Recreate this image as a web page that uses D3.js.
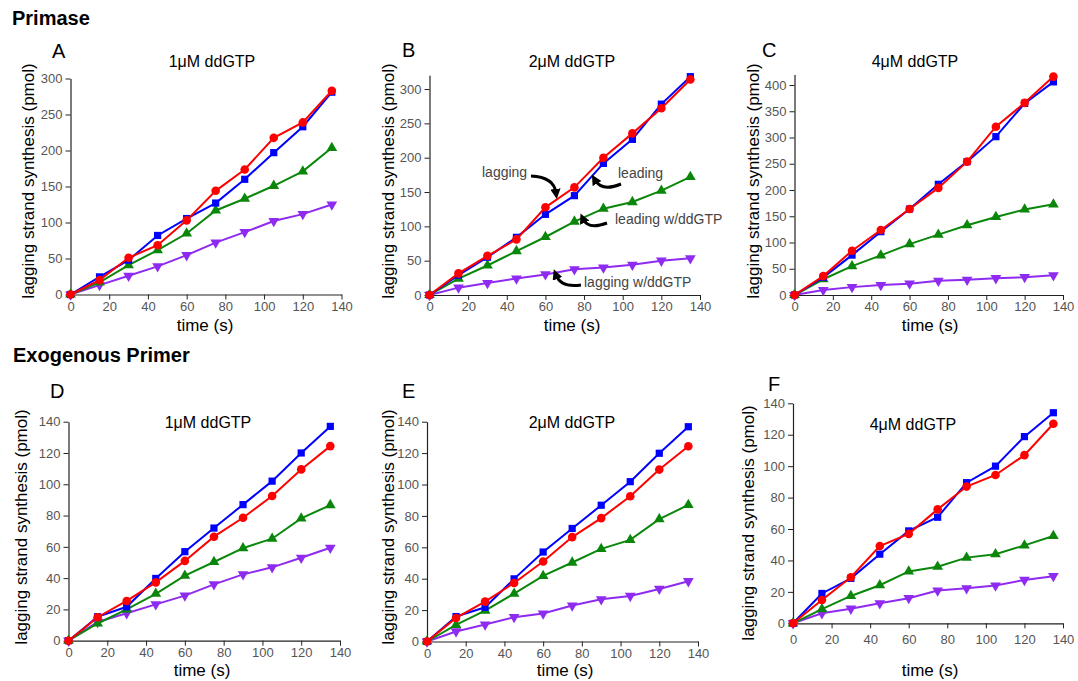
<!DOCTYPE html>
<html><head><meta charset="utf-8">
<script src="https://cdn.jsdelivr.net/npm/d3@7"></script>
<style>body{margin:0;background:#fff;} text{font-family:"Liberation Sans",Arial,sans-serif;}</style>
</head><body><svg id="c" width="1078" height="681"></svg>
<script>
// ---------- data ----------
const time = [0,15,30,45,60,75,90,105,120,135];
const xTicks = [0,20,40,60,80,100,120,140];
const seriesNames = ["lagging w/ddGTP","leading w/ddGTP","leading","lagging"];
const seriesColors = ["#8f2bf0","#0a870a","#0000ff","#ff0000"];
const seriesSymbols = ["triDown","triUp","square","circle"];

const A_leading   = [0,24.5,47.7,82,105.5,127,160,197,233,281];
const A_lagging   = [0,20,51,68.5,103,144,173.6,217.6,239,283];
const A_leadingDd = [0,16.7,40.7,61.6,84.7,116.7,133,151,171,203.7];
const A_laggingDd = [0,13,26,39,54.6,72,86.6,102,111.6,125];

const B_leading   = [0,29,55,84,117.5,144.7,191.7,226.7,278,318];
const B_lagging   = [0,31.5,57,81,127.7,156.8,200,235.4,272,314];
const B_leadingDd = [0,23.8,43,64,84.5,107,125.7,135.4,152,172];
const B_laggingDd = [0,10.7,17.5,24,30,37.4,40,44,50,53.4];

const C_leading   = [0,33.7,76,120.6,163.8,210.8,254,301.6,365,406];
const C_lagging   = [0,36,84.4,123.8,163.8,204,254,320.6,366,416];
const C_leadingDd = [0,30,55,75.5,97,115,133,148.6,163,172.7];
const C_laggingDd = [0,9.5,15,19,21.6,27,29,32,34,37.5];

const D_leading   = [0,15.3,21.7,39.8,56.9,72,87,102,120,137];
const D_lagging   = [0,15,25.4,37.3,51,66.5,78.6,92.5,109.5,124.4];
const D_leadingDd = [0,11,20,30,41.6,50.3,59.2,65.2,78.2,86.7];
const D_laggingDd = [0,12,17.5,23.2,28.8,36,42.4,46.9,53,59.4];

const E_leading   = [0,15.9,21.8,39.9,57,72,86.8,101.8,119.9,136.8];
const E_lagging   = [0,15,25.4,37.3,51,66.5,78.6,92.5,109.5,124.4];
const E_leadingDd = [0,10.6,19.7,30.5,41.8,50.3,59,64.7,77.9,87];
const E_laggingDd = [0,6.4,10.8,15.5,17.8,22.9,26.9,29,33.5,38.4];

const F_leading   = [0,19,28.6,44,58.8,67.5,89.5,100,118.8,134];
const F_lagging   = [0,14.8,29.3,49.2,56.9,72.5,87,94.4,107,127];
const F_leadingDd = [0,9,17.4,24.2,33,36,41.8,44,49.6,55.6];
const F_laggingDd = [0,6.4,9.3,12.7,16,20.8,22.3,24,27.6,30];

const yTicksTopA = [0,50,100,150,200,250,300];
const yTicksTopC = [0,50,100,150,200,250,300,350,400];
const yTicksBottom = [0,20,40,60,80,100,120,140];

const panelLetters = ["A","B","C","D","E","F"];
const panelTitles = ["1\u03BCM ddGTP","2\u03BCM ddGTP","4\u03BCM ddGTP","1\u03BCM ddGTP","2\u03BCM ddGTP","4\u03BCM ddGTP"];
const sectionTitles = ["Primase","Exogenous Primer"];
const xLabel = "time (s)";
const yLabel = "lagging strand synthesis (pmol)";

// ---------- layout (pixels) ----------
const panels = [
  {x0:70.5, x1:341.5, y0:294.5, yTop:78.5, yMax:300, ticks:yTicksTopA, data:[A_laggingDd,A_leadingDd,A_leading,A_lagging],
   letter:[52,58], title:[212,67], ylab:[28.5,181], xlab:[205,331], pad:2},
  {x0:429.5, x1:700, y0:295, yTop:75.3, yMax:320, ticks:yTicksTopA, data:[B_laggingDd,B_leadingDd,B_leading,B_lagging],
   letter:[402,57], title:[572,67], ylab:[388.5,181], xlab:[572,331], pad:2},
  {x0:794.5, x1:1063, y0:295, yTop:74.5, yMax:420, ticks:yTicksTopC, data:[C_laggingDd,C_leadingDd,C_leading,C_lagging],
   letter:[762,57], title:[915,67], ylab:[753.5,181], xlab:[930,331], pad:2},
  {x0:68.5, x1:340, y0:640.7, yTop:421.7, yMax:140, ticks:yTicksBottom, data:[D_laggingDd,D_leadingDd,D_leading,D_lagging],
   letter:[50,398], title:[208,428], ylab:[21,527], xlab:[202,676], pad:2},
  {x0:427, x1:698, y0:641.5, yTop:421.7, yMax:140, ticks:yTicksBottom, data:[E_laggingDd,E_leadingDd,E_leading,E_lagging],
   letter:[402,398], title:[572,428], ylab:[388.5,527], xlab:[565,676], pad:2},
  {x0:793, x1:1063, y0:623.3, yTop:403.3, yMax:140, ticks:yTicksBottom, data:[F_laggingDd,F_leadingDd,F_leading,F_lagging],
   letter:[768,391], title:[913,430], ylab:[748.5,523], xlab:[930,676], pad:6}
];

const svg = d3.select("#c");
svg.append("rect").attr("width",1078).attr("height",681).attr("fill","#fff");

svg.append("text").attr("x",12).attr("y",25).attr("font-size",20).attr("font-weight","bold").text(sectionTitles[0]);
svg.append("text").attr("x",13).attr("y",362).attr("font-size",20).attr("font-weight","bold").text(sectionTitles[1]);

function symbolPath(kind){
  if(kind==="square") return d3.symbol().type(d3.symbolSquare).size(52)();
  if(kind==="circle") return d3.symbol().type(d3.symbolCircle).size(58)();
  return d3.symbol().type(d3.symbolTriangle).size(50)();
}

panels.forEach((p,i)=>{
  const x = d3.scaleLinear().domain([0,140]).range([p.x0,p.x1]);
  const y = d3.scaleLinear().domain([0,p.yMax]).range([p.y0,p.yTop]);
  const g = svg.append("g");

  const ax = g.append("g").attr("transform",`translate(0,${p.y0})`)
    .call(d3.axisBottom(x).tickValues(xTicks).tickSize(5).tickPadding(p.pad).tickSizeOuter(0));
  const ay = g.append("g").attr("transform",`translate(${p.x0},0)`)
    .call(d3.axisLeft(y).tickValues(p.ticks).tickSize(5).tickPadding(3).tickSizeOuter(0));
  [ax,ay].forEach(a=>{
    a.selectAll("path.domain").attr("stroke","#222").attr("stroke-width",1.2);
    a.selectAll(".tick line").attr("stroke","#222");
    a.selectAll(".tick text").attr("fill","#555").attr("font-size",13)
      .style("font-family",'"Liberation Sans",Arial,sans-serif');
  });

  // series
  p.data.forEach((vals,s)=>{
    const pts = time.map((t,k)=>[t,vals[k]]);
    g.append("path").datum(pts)
      .attr("fill","none").attr("stroke",seriesColors[s]).attr("stroke-width",2)
      .attr("d",d3.line().x(d=>x(d[0])).y(d=>y(d[1])));
    g.selectAll(null).data(pts).enter().append("path")
      .attr("d",symbolPath(seriesSymbols[s]))
      .attr("fill",seriesColors[s])
      .attr("transform",d=>`translate(${x(d[0])},${y(d[1])})${seriesSymbols[s]==="triDown"?" rotate(180)":""}`);
  });

  g.append("text").attr("x",p.letter[0]).attr("y",p.letter[1]).attr("font-size",20).text(panelLetters[i]);
  g.append("text").attr("x",p.title[0]).attr("y",p.title[1]).attr("font-size",16).attr("text-anchor","middle").text(panelTitles[i]);
  g.append("text").attr("transform",`translate(${p.ylab[0]},${p.ylab[1]}) rotate(-90)`)
    .attr("dy","0.35em").attr("font-size",17).attr("text-anchor","middle").text(yLabel);
  g.append("text").attr("x",p.xlab[0]).attr("y",p.xlab[1]).attr("font-size",17).attr("text-anchor","middle").text(xLabel);
});

// ---------- annotations in panel B ----------
const defs = svg.append("defs");
defs.append("marker").attr("id","ah").attr("viewBox","0 0 10 10").attr("refX",4).attr("refY",5)
  .attr("markerWidth",3.4).attr("markerHeight",3.4).attr("orient","auto")
  .append("path").attr("d","M0,0 L10,5 L0,10 z").attr("fill","#000");

const annLabels = [
  {t:"lagging", x:482, y:177, path:"M531,176 Q554,177 556,193"},
  {t:"leading", x:618, y:178, path:"M621,184 Q602,192 595,180"},
  {t:"leading w/ddGTP", x:615, y:224, path:"M607,223 Q588,230 583,219"},
  {t:"lagging w/ddGTP", x:584, y:287, path:"M581,285 Q561,288 556,275"}
];
annLabels.forEach(a=>{
  svg.append("text").attr("x",a.x).attr("y",a.y).attr("font-size",14).attr("fill","#444").text(a.t);
  svg.append("path").attr("d",a.path).attr("fill","none").attr("stroke","#000").attr("stroke-width",3)
    .attr("marker-end","url(#ah)");
});
</script></body></html>
